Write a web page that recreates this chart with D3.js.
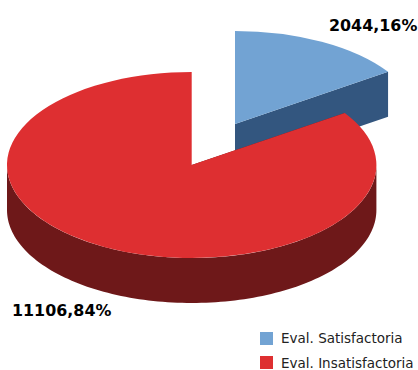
<!DOCTYPE html>
<html>
<head>
<meta charset="utf-8">
<script src="https://cdnjs.cloudflare.com/ajax/libs/d3/7.8.5/d3.min.js"></script>
<style>
html,body{margin:0;padding:0;background:#fff;overflow:hidden}
svg{display:block}
text{font-family:"DejaVu Sans",Verdana,sans-serif}
</style>
</head>
<body>
<svg id="chart" width="418" height="370"></svg>
<script>
const categories = ["Eval. Satisfactoria", "Eval. Insatisfactoria"];
const values = [2044.16, 11106.84];
const topColors = ["#72a3d3", "#de2f31"];
const sideColors = ["#33567f", "#6e1819"];

const width = 418, height = 370;
const cx = 191.7, cy = 165;   // centre of the unexploded pie
const rx = 184.7, ry = 93;    // ellipse radii of the tilted disc
const depth = 45;             // wall height
const explode = [0.5, 0];     // slice offset as a share of the radius

const svg = d3.select("#chart");
const fmt = v => v.toFixed(2).replace(".", ",") + "%";

const x = d3.scaleLinear().domain([-1, 1]).range([cx - rx, cx + rx]);
const y = d3.scaleLinear().domain([-1, 1]).range([cy - ry, cy + ry]);

const slices = d3.pie().sort(null).value(d => d)(values).map((s, i) => {
  const mid = (s.startAngle + s.endAngle) / 2;
  return {
    ...s, i,
    ox: explode[i] * Math.sin(mid),
    oy: -explode[i] * Math.cos(mid)
  };
});

// Point on a slice's top face: polar angle clockwise from twelve o'clock, radius 0..1
const px = (s, a, r) => x(s.ox + r * Math.sin(a));
const py = (s, a, r) => y(s.oy - r * Math.cos(a));

const sampled = (a0, a1) => d3.range(0, 121).map(k => a0 + (a1 - a0) * k / 120);

slices.forEach(s => {
  const g = svg.append("g");

  // flat cut faces along both radii of the slice
  [s.startAngle, s.endAngle].forEach(a => {
    const cut = d3.area()
      .x(r => px(s, a, r))
      .y0(r => py(s, a, r))
      .y1(r => py(s, a, r) + depth);
    g.append("path").attr("d", cut([0, 1])).attr("fill", sideColors[s.i]);
  });

  // curved outer wall on the part of the rim that faces the viewer
  const a0 = Math.max(s.startAngle, Math.PI / 2);
  const a1 = Math.min(s.endAngle, 3 * Math.PI / 2);
  if (a1 > a0) {
    const wall = d3.area()
      .x(a => px(s, a, 1))
      .y0(a => py(s, a, 1))
      .y1(a => py(s, a, 1) + depth);
    g.append("path").attr("d", wall(sampled(a0, a1))).attr("fill", sideColors[s.i]);
  }

  // top face: a circular arc squashed into the ellipse
  const arc = d3.arc().innerRadius(0).outerRadius(rx);
  g.append("path")
    .attr("transform", `translate(${x(s.ox)},${y(s.oy)}) scale(1,${ry / rx})`)
    .attr("d", arc(s))
    .attr("fill", topColors[s.i]);
});

// value labels
const labelPos = [[329, 31], [12, 316]];
svg.selectAll("text.value").data(values).join("text")
  .attr("class", "value")
  .attr("x", (d, i) => labelPos[i][0])
  .attr("y", (d, i) => labelPos[i][1])
  .attr("font-size", 15.9)
  .attr("font-weight", "bold")
  .attr("fill", "#000")
  .text(fmt);

// legend
const legend = svg.selectAll("g.legend").data(categories).join("g")
  .attr("class", "legend")
  .attr("transform", (d, i) => `translate(260,${332 + i * 24})`);
legend.append("rect")
  .attr("width", 13).attr("height", 13)
  .attr("fill", (d, i) => topColors[i]);
legend.append("text")
  .attr("x", 21).attr("y", (d, i) => 11 + i)
  .attr("font-size", 13.5)
  .attr("fill", "#222")
  .text(d => d);
</script>
</body>
</html>
